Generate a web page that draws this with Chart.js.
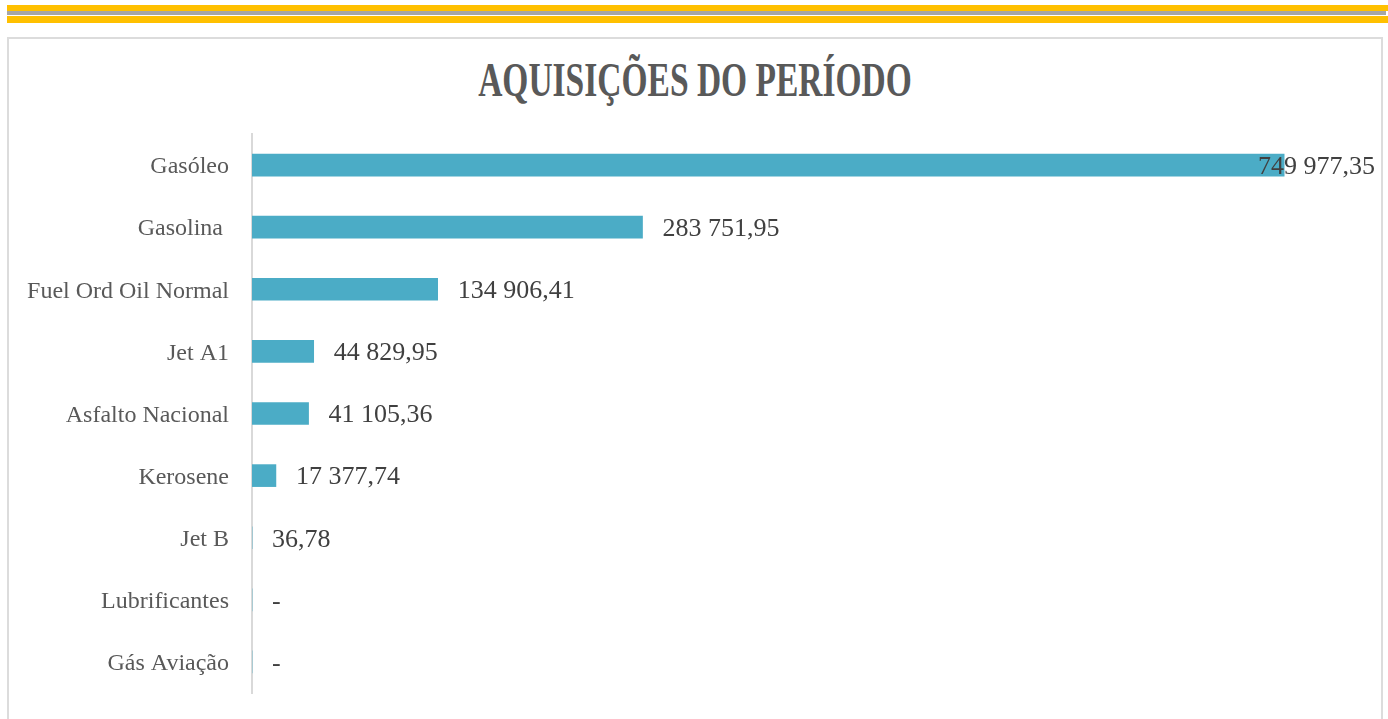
<!DOCTYPE html>
<html>
<head>
<meta charset="utf-8">
<script src="https://cdn.jsdelivr.net/npm/chart.js@4"></script>
<style>
  html, body { margin: 0; padding: 0; background: #fff; }
  body { width: 1388px; height: 719px; position: relative; overflow: hidden; }
  .band { position: absolute; left: 7px; width: 1381px; }
  .gold1 { top: 5px; height: 6px; background: #ffc000; }
  .grey { top: 11px; height: 4px; width: 1379px; background: #a6a6a6; }
  .gold2 { top: 16px; height: 7px; background: #ffc000; }
  .card { position: absolute; left: 7px; top: 37px; width: 1372px; height: 700px;
          border: 2px solid #dcdcdc; }
  .title { position: absolute; left: 0; width: 100%; top: 16px; text-align: center;
           font: bold 33.5px "Liberation Serif", serif; line-height: 1; color: #595959;
           transform: scaleY(1.45); transform-origin: top; }
  .wrap { position: absolute; left: 0; top: 0; width: 1372px; height: 680px; }
</style>
</head>
<body>
<div class="band gold1"></div>
<div class="band grey"></div>
<div class="band gold2"></div>
<div class="card">
  <div class="title">AQUISIÇÕES DO PERÍODO</div>
  <div class="wrap"><canvas id="barChart"></canvas></div>
</div>
<script>
  const categories = ['Gasóleo', 'Gasolina ', 'Fuel Ord Oil Normal', 'Jet A1', 'Asfalto Nacional',
    'Kerosene', 'Jet B', 'Lubrificantes', 'Gás Aviação'];
  const values = [749977.35, 283751.95, 134906.41, 44829.95, 41105.36, 17377.74, 36.78, 0, 0];

  function formatValue(v) {
    if (!v) return '-';
    const parts = v.toFixed(2).split('.');
    const int = parts[0].replace(/\B(?=(\d{3})+(?!\d))/g, ' ');
    return int + ',' + parts[1];
  }

  // value labels at the bar ends, kept inside the canvas like Excel does
  const valueLabels = {
    id: 'valueLabels',
    afterDatasetsDraw(chart) {
      const ctx = chart.ctx;
      const meta = chart.getDatasetMeta(0);
      ctx.save();
      ctx.font = '26px "Liberation Serif", serif';
      ctx.fillStyle = '#404040';
      ctx.textBaseline = 'middle';
      ctx.textAlign = 'left';
      meta.data.forEach((bar, i) => {
        const text = formatValue(values[i]);
        const w = ctx.measureText(text).width;
        let x = bar.x + 20;
        const limit = chart.width - 6;
        if (x + w > limit) x = limit - w;
        ctx.fillText(text, x, bar.y + 2);
      });
      ctx.restore();
    }
  };

  const barChart = new Chart(document.getElementById('barChart'), {
    type: 'bar',
    data: {
      labels: categories,
      datasets: [{
        label: 'Aquisições',
        data: values,
        backgroundColor: '#4bacc6',
        barThickness: 22
      }]
    },
    options: {
      indexAxis: 'y',
      responsive: true,
      maintainAspectRatio: false,
      animation: false,
      layout: { padding: { top: 95, bottom: 26, left: 0, right: 28 } },
      plugins: {
        legend: { display: false },
        tooltip: { enabled: false }
      },
      scales: {
        x: {
          display: false,
          min: 0,
          max: 800000
        },
        y: {
          afterFit(scale) {
            scale.width = 243;
            scale.paddingTop = 0;
            scale.paddingBottom = 0;
          },
          grid: { display: false, drawTicks: false },
          border: { display: true, color: '#d9d9d9', width: 2 },
          ticks: {
            padding: 23,
            labelOffset: 2,
            color: '#595959',
            font: { family: '"Liberation Serif", serif', size: 24 }
          }
        }
      }
    },
    plugins: [valueLabels]
  });
</script>
</body>
</html>
